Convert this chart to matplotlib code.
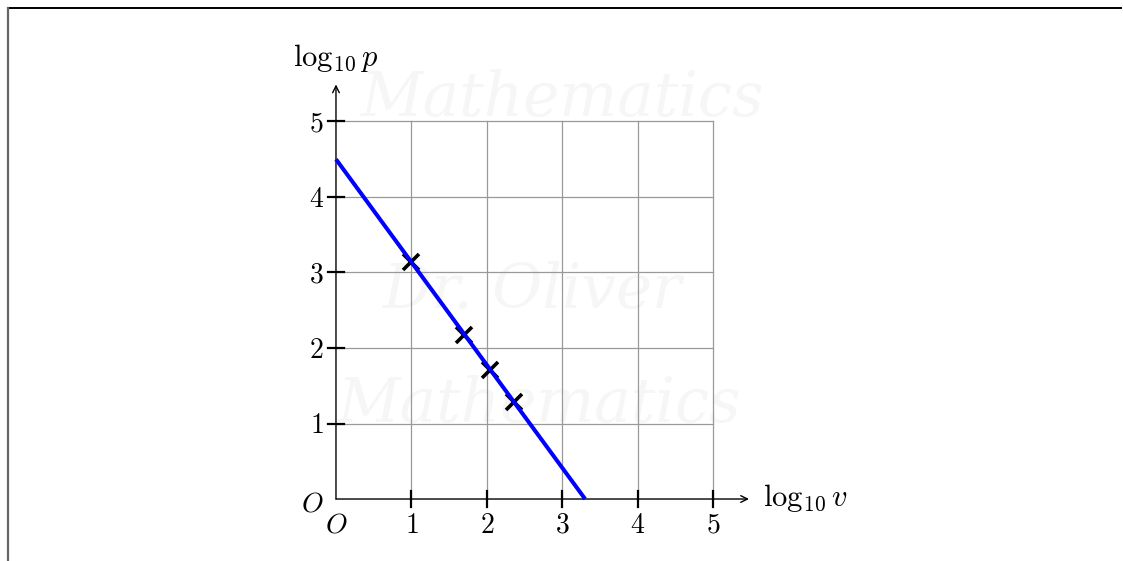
"""log10 p against log10 v with a fitted straight line."""

import matplotlib

matplotlib.use("Agg")
import matplotlib.pyplot as plt
from matplotlib.lines import Line2D

plt.rcParams["mathtext.fontset"] = "cm"

# measured points (log10 v, log10 p)
log_v = [0.99, 1.70, 2.04, 2.36]
log_p = [3.14, 2.17, 1.71, 1.28]

# fitted line end points
fit_x = [0.0, 3.3]
fit_y = [4.5, 0.0]

ticks = [1, 2, 3, 4, 5]
grid_max = 5

fig = plt.figure(figsize=(11.23, 5.61), dpi=100)
ax = fig.add_axes([0, 0, 1, 1])
ax.set_xlim(-4.450, 10.424)
ax.set_ylim(-0.821, 6.609)
ax.axis("off")

# page frame
fig.add_artist(Line2D([8 / 1123, 1121 / 1123], [1 - 8 / 561] * 2, color="black", lw=1.4))
fig.add_artist(Line2D([8 / 1123] * 2, [0, 1 - 8 / 561], color="#666666", lw=1.6))

# faint watermark
wm = dict(color="#f6f6f6", fontsize=44, style="italic", family="DejaVu Serif",
          ha="center", va="center", zorder=0)
ax.text(3.0, 5.3, "Mathematics", **wm)
ax.text(2.6, 2.75, "Dr. Oliver", **wm)
ax.text(2.7, 1.25, "Mathematics", **wm)

# grid
for t in ticks:
    ax.plot([t, t], [0, grid_max], color="#999999", lw=0.9, zorder=1)
    ax.plot([0, grid_max], [t, t], color="#999999", lw=0.9, zorder=1)

# axes with arrow heads
arrow = dict(arrowstyle="->", color="black", lw=1.0, shrinkA=0, shrinkB=0,
             mutation_scale=12)
ax.annotate("", xy=(5.47, 0), xytext=(0, 0), arrowprops=arrow, zorder=2)
ax.annotate("", xy=(0, 5.49), xytext=(0, 0), arrowprops=arrow, zorder=2)

# tick marks and labels
for t in ticks:
    ax.plot([t, t], [-0.1, 0.1], color="black", lw=1.6, zorder=3)
    ax.plot([-0.1, 0.1], [t, t], color="black", lw=1.6, zorder=3)
    ax.text(t, -0.45, f"${t}$", fontsize=20, ha="center", va="baseline")
    ax.text(-0.16, t - 0.13, f"${t}$", fontsize=20, ha="right", va="baseline")
ax.text(0, -0.45, "$O$", fontsize=20, ha="center", va="baseline")
ax.text(-0.17, -0.17, "$O$", fontsize=20, ha="right", va="baseline")

ax.text(0, 5.74, r"$\log_{10} p$", fontsize=22, ha="center", va="baseline")
ax.text(5.66, -0.09, r"$\log_{10} v$", fontsize=22, ha="left", va="baseline")

# data points and fitted line
ax.plot(log_v, log_p, linestyle="none", marker="x", markersize=12,
        markeredgewidth=2.6, color="black", zorder=4)
ax.plot(fit_x, fit_y, color="#0000ff", lw=2.9, solid_capstyle="butt", zorder=5)

fig.savefig("out.png", dpi=100)
